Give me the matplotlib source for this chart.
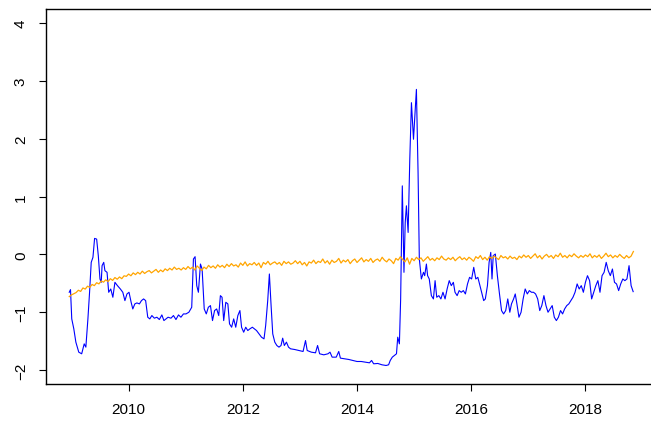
import numpy as np
import matplotlib
matplotlib.use("Agg")
import matplotlib.pyplot as plt

plt.rcParams["font.family"] = ["Liberation Sans", "DejaVu Sans"]

# blue series: (decimal year, value)
blue_t = [
    2008.960, 2008.982, 2009.004, 2009.040, 2009.076, 2009.127, 2009.178, 2009.222, 2009.251, 2009.287,
    2009.316, 2009.345, 2009.375, 2009.404, 2009.440, 2009.469, 2009.498, 2009.520, 2009.535, 2009.564,
    2009.585, 2009.622, 2009.651, 2009.687, 2009.724, 2009.760, 2009.804, 2009.855, 2009.898, 2009.935,
    2009.971, 2010.007, 2010.044, 2010.073, 2010.109, 2010.145, 2010.189, 2010.225, 2010.262, 2010.298,
    2010.335, 2010.371, 2010.407, 2010.451, 2010.495, 2010.538, 2010.582, 2010.618, 2010.655, 2010.691,
    2010.742, 2010.785, 2010.829, 2010.873, 2010.916, 2010.960, 2011.004, 2011.055, 2011.105, 2011.135,
    2011.164, 2011.193, 2011.222, 2011.258, 2011.287, 2011.324, 2011.360, 2011.396, 2011.433, 2011.469,
    2011.505, 2011.542, 2011.578, 2011.607, 2011.636, 2011.665, 2011.702, 2011.738, 2011.767, 2011.804,
    2011.840, 2011.876, 2011.913, 2011.949, 2011.978, 2012.015, 2012.051, 2012.087, 2012.124, 2012.167,
    2012.204, 2012.240, 2012.284, 2012.327, 2012.371, 2012.400, 2012.436, 2012.465, 2012.495, 2012.524,
    2012.560, 2012.596, 2012.633, 2012.669, 2012.698, 2012.727, 2012.764, 2012.800, 2012.836, 2012.909,
    2012.982, 2013.055, 2013.098, 2013.127, 2013.200, 2013.273, 2013.309, 2013.345, 2013.418, 2013.491,
    2013.527, 2013.564, 2013.636, 2013.680, 2013.709, 2013.782, 2013.855, 2013.927, 2014.000, 2014.073,
    2014.145, 2014.218, 2014.255, 2014.291, 2014.364, 2014.436, 2014.509, 2014.553, 2014.582, 2014.618,
    2014.655, 2014.691, 2014.713, 2014.742, 2014.764, 2014.793, 2014.822, 2014.844, 2014.865, 2014.895,
    2014.924, 2014.953, 2014.989, 2015.040, 2015.069, 2015.091, 2015.127, 2015.164, 2015.185, 2015.215,
    2015.236, 2015.265, 2015.302, 2015.338, 2015.367, 2015.396, 2015.433, 2015.469, 2015.505, 2015.542,
    2015.578, 2015.615, 2015.651, 2015.687, 2015.716, 2015.753, 2015.789, 2015.825, 2015.862, 2015.898,
    2015.935, 2015.971, 2016.007, 2016.044, 2016.080, 2016.116, 2016.153, 2016.182, 2016.218, 2016.247,
    2016.284, 2016.313, 2016.342, 2016.364, 2016.385, 2016.422, 2016.458, 2016.495, 2016.531, 2016.567,
    2016.604, 2016.640, 2016.676, 2016.705, 2016.742, 2016.771, 2016.800, 2016.836, 2016.873, 2016.909,
    2016.945, 2016.982, 2017.018, 2017.055, 2017.091, 2017.127, 2017.164, 2017.200, 2017.236, 2017.273,
    2017.309, 2017.345, 2017.382, 2017.418, 2017.455, 2017.491, 2017.527, 2017.564, 2017.600, 2017.636,
    2017.673, 2017.709, 2017.745, 2017.782, 2017.818, 2017.855, 2017.891, 2017.927, 2017.964, 2018.000,
    2018.036, 2018.073, 2018.109, 2018.145, 2018.182, 2018.218, 2018.255, 2018.291, 2018.327, 2018.364,
    2018.400, 2018.436, 2018.473, 2018.509, 2018.545, 2018.582, 2018.618, 2018.655, 2018.691, 2018.727,
    2018.764, 2018.800, 2018.836,
]
blue_v = [
    -0.655, -0.609, -1.115, -1.287, -1.517, -1.690, -1.718, -1.546, -1.603, -1.115,
    -0.655, -0.138, -0.052, 0.276, 0.264, -0.023, -0.425, -0.483, -0.195, -0.138,
    -0.282, -0.310, -0.655, -0.598, -0.741, -0.483, -0.540, -0.598, -0.655, -0.799,
    -0.684, -0.655, -0.828, -0.943, -0.856, -0.839, -0.856, -0.799, -0.770, -0.799,
    -1.086, -1.115, -1.057, -1.103, -1.086, -1.126, -1.046, -1.144, -1.115, -1.086,
    -1.103, -1.057, -1.126, -1.046, -1.086, -1.029, -1.029, -1.000, -0.914, -0.080,
    -0.040, -0.540, -0.655, -0.167, -0.253, -0.943, -1.029, -0.914, -0.885, -1.144,
    -0.971, -0.943, -1.057, -0.713, -0.741, -1.144, -0.828, -0.856, -1.201, -1.259,
    -1.115, -1.259, -1.057, -0.971, -1.259, -1.345, -1.259, -1.316, -1.287, -1.259,
    -1.287, -1.316, -1.374, -1.431, -1.460, -1.230, -0.799, -0.339, -0.885, -1.374,
    -1.517, -1.575, -1.603, -1.575, -1.448, -1.575, -1.517, -1.603, -1.632, -1.644,
    -1.661, -1.678, -1.489, -1.661, -1.690, -1.701, -1.575, -1.718, -1.736, -1.718,
    -1.690, -1.776, -1.776, -1.678, -1.793, -1.805, -1.816, -1.833, -1.851, -1.851,
    -1.862, -1.874, -1.833, -1.891, -1.885, -1.908, -1.920, -1.908, -1.833, -1.776,
    -1.747, -1.718, -1.431, -1.546, -0.770, 1.184, -0.310, 0.552, 0.839, 0.379,
    1.644, 2.621, 1.989, 2.851, 1.414, -0.080, -0.425, -0.310, -0.368, -0.167,
    -0.368, -0.425, -0.713, -0.770, -0.454, -0.741, -0.713, -0.770, -0.655, -0.770,
    -0.598, -0.454, -0.540, -0.483, -0.655, -0.713, -0.626, -0.655, -0.626, -0.684,
    -0.511, -0.397, -0.425, -0.224, -0.425, -0.397, -0.540, -0.655, -0.799, -0.770,
    -0.540, -0.138, 0.034, -0.425, -0.023, 0.006, -0.368, -0.684, -0.971, -1.029,
    -0.971, -0.770, -1.000, -0.856, -0.770, -0.684, -0.856, -1.086, -1.000, -0.770,
    -0.598, -0.684, -0.626, -0.655, -0.655, -0.684, -0.770, -0.971, -0.885, -0.713,
    -0.885, -1.000, -0.943, -0.885, -1.086, -1.144, -1.086, -0.971, -1.029, -0.943,
    -0.885, -0.856, -0.799, -0.741, -0.655, -0.511, -0.598, -0.540, -0.655, -0.483,
    -0.368, -0.454, -0.770, -0.655, -0.540, -0.454, -0.655, -0.368, -0.310, -0.138,
    -0.282, -0.368, -0.253, -0.483, -0.511, -0.626, -0.511, -0.425, -0.454, -0.425,
    -0.195, -0.540, -0.644,
]

# orange series: sampled every 0.04 year from 2008.96 to 2018.84
orange_start, orange_end = 2008.96, 2018.84
orange_v = [
    -0.73, -0.70, -0.68, -0.66, -0.62, -0.64, -0.58, -0.60, -0.55, -0.57, -0.52, -0.54, -0.49,
    -0.51, -0.46, -0.48, -0.44, -0.47, -0.42, -0.45, -0.40, -0.43, -0.39, -0.42, -0.37,
    -0.38, -0.34, -0.37, -0.32, -0.35, -0.31, -0.34, -0.29, -0.33, -0.30, -0.28, -0.32, -0.29,
    -0.26, -0.31, -0.27, -0.30, -0.25, -0.28, -0.24, -0.27, -0.22, -0.26, -0.24, -0.27,
    -0.23, -0.26, -0.21, -0.25, -0.22, -0.27, -0.20, -0.24, -0.28, -0.22, -0.25, -0.19, -0.23,
    -0.20, -0.24, -0.18, -0.22, -0.19, -0.23, -0.17, -0.21, -0.16, -0.20, -0.18, -0.22,
    -0.15, -0.19, -0.13, -0.20, -0.16, -0.18, -0.14, -0.19, -0.15, -0.23, -0.14, -0.17, -0.12,
    -0.18, -0.15, -0.13, -0.17, -0.14, -0.19, -0.12, -0.16, -0.13, -0.17, -0.15, -0.11,
    -0.16, -0.12, -0.18, -0.14, -0.20, -0.13, -0.15, -0.10, -0.16, -0.12, -0.14, -0.08, -0.15,
    -0.11, -0.17, -0.10, -0.14, -0.12, -0.07, -0.15, -0.10, -0.13, -0.09, -0.16, -0.11,
    -0.08, -0.14, -0.10, -0.06, -0.13, -0.09, -0.12, -0.07, -0.14, -0.10, -0.08, -0.12, -0.05,
    -0.10, -0.13, -0.08, -0.11, -0.16, -0.07, -0.10, -0.04, -0.09, -0.13, -0.06, -0.17,
    -0.07, -0.11, -0.05, -0.09, -0.06, -0.12, -0.08, -0.04, -0.10, -0.07, -0.11, -0.06, -0.09,
    -0.03, -0.08, -0.10, -0.06, -0.09, -0.05, -0.11, -0.07, -0.04, -0.09, -0.06, -0.10,
    -0.05, -0.08, -0.12, -0.04, -0.07, -0.02, -0.09, -0.05, -0.10, -0.04, -0.07, -0.03, -0.06,
    -0.09, -0.02, -0.06, -0.04, -0.08, -0.03, -0.07, -0.05, -0.09, -0.03, -0.06, -0.01,
    -0.05, -0.02, -0.07, -0.03, 0.01, -0.06, -0.02, -0.08, -0.03, 0.00, -0.05, -0.02, -0.07,
    -0.01, -0.04, 0.02, -0.05, -0.02, -0.06, -0.01, -0.04, 0.01, -0.03, -0.06, -0.02,
    -0.05, -0.01, -0.04, 0.01, -0.06, -0.02, -0.05, -0.01, -0.07, -0.03, 0.02, -0.04, -0.01,
    -0.06, -0.02, -0.05, 0.00, -0.04, -0.07, -0.02, -0.06, -0.03, 0.05,
]
orange_t = np.linspace(orange_start, orange_end, len(orange_v))

x_ticks = [2010, 2012, 2014, 2016, 2018]
y_ticks = [-2, -1, 0, 1, 2, 3, 4]

fig = plt.figure(figsize=(6.51, 4.27), dpi=100)
# R-style plot region; right edge runs past the picture
ax = fig.add_axes([46 / 651, 42 / 427, 610 / 651, 375 / 427])

ax.plot(blue_t, blue_v, color="blue", lw=0.8)
ax.plot(orange_t, orange_v, color="orange", lw=0.9)

ax.set_xlim(2008.553, 2019.236)
ax.set_ylim(-2.24, 4.24)
ax.set_xticks(x_ticks)
ax.set_yticks(y_ticks)
ax.set_xticklabels([str(t) for t in x_ticks], fontsize=11)
ax.set_yticklabels([str(t).replace("-", "\u2212") for t in y_ticks], fontsize=11,
                   rotation=90, va="center")
ax.tick_params(direction="out", length=5, width=0.8, pad=8)
for s in ax.spines.values():
    s.set_linewidth(1.0)

plt.savefig("out.png", dpi=100)
